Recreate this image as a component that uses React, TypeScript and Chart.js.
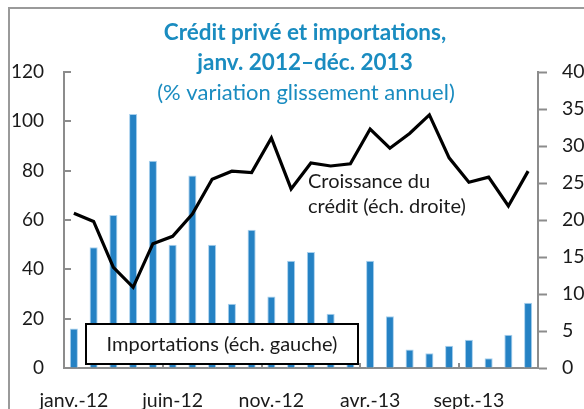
import React, { useEffect, useRef } from 'react';
import { Chart, registerables } from 'chart.js';

Chart.register(...registerables);

const months = [
  'janv.-12', 'févr.-12', 'mars-12', 'avr.-12', 'mai-12', 'juin-12',
  'juil.-12', 'août-12', 'sept.-12', 'oct.-12', 'nov.-12', 'déc.-12',
  'janv.-13', 'févr.-13', 'mars-13', 'avr.-13', 'mai-13', 'juin-13',
  'juil.-13', 'août-13', 'sept.-13', 'oct.-13', 'nov.-13', 'déc.-13',
];

// Importations (% glissement annuel, échelle gauche)
const importations = [16, 49, 62, 103, 84, 50, 78, 50, 26, 56, 29, 43.5, 47, 22, 9, 43.5, 21, 7.5, 6, 9, 11.5, 4, 13.5, 26.5];

// Croissance du crédit (% glissement annuel, échelle droite)
const credit = [20.9, 19.8, 13.6, 10.9, 16.8, 17.8, 20.8, 25.5, 26.6, 26.4, 31.1, 24.2, 27.7, 27.3, 27.6, 32.3, 29.7, 31.7, 34.2, 28.4, 25.1, 25.8, 21.9, 26.6];

const leftTicks = [0, 20, 40, 60, 80, 100, 120];
const rightTicks = [0, 5, 10, 15, 20, 25, 30, 35, 40];

const titleLines = ['Crédit privé et importations,', 'janv. 2012–déc. 2013'];
const subtitle = '(% variation glissement annuel)';
const importLabel = 'Importations (éch. gauche)';
const creditLabel = ['Croissance du', 'crédit (éch. droite)'];

const FONT = 'Lato, "Open Sans", sans-serif';
const AXIS = '#8c8c8c';
const TEXT = '#1a1a1a';
const BLUE_TITLE = '#1a8cc0';

const overlay = {
  id: 'overlay',
  afterDatasetsDraw(chart: any) {
    const { ctx, chartArea, scales } = chart;
    const { left, bottom } = chartArea;
    ctx.save();
    // inward ticks on left axis
    ctx.strokeStyle = AXIS;
    ctx.lineWidth = 2;
    leftTicks.forEach((v) => {
      const y = Math.round(scales.y.getPixelForValue(v));
      ctx.beginPath();
      ctx.moveTo(left, y);
      ctx.lineTo(left + 7, y);
      ctx.stroke();
    });
    // inward ticks on x axis at every 5th category boundary
    for (let i = 5; i < months.length; i += 5) {
      const x = Math.round((scales.x.getPixelForValue(i - 1) + scales.x.getPixelForValue(i)) / 2);
      ctx.beginPath();
      ctx.moveTo(x, bottom);
      ctx.lineTo(x, bottom - 5);
      ctx.stroke();
    }

    // Importations label box
    const bx = left + 22, by = bottom - 44, bw = 272, bh = 40;
    ctx.fillStyle = '#ffffff';
    ctx.fillRect(bx, by, bw, bh);
    ctx.strokeStyle = '#000000';
    ctx.lineWidth = 2;
    ctx.strokeRect(bx, by, bw, bh);
    ctx.fillStyle = TEXT;
    ctx.font = `20px ${FONT}`;
    ctx.textAlign = 'center';
    ctx.textBaseline = 'middle';
    ctx.fillText(importLabel, bx + bw / 2, by + bh / 2 + 1);

    // Credit label
    ctx.textAlign = 'left';
    ctx.fillText(creditLabel[0], 308, 182);
    ctx.fillText(creditLabel[1], 308, 207);

    // Title
    ctx.textAlign = 'center';
    ctx.fillStyle = BLUE_TITLE;
    ctx.font = `bold 22.5px ${FONT}`;
    ctx.fillText(titleLines[0], 305, 33);
    ctx.fillText(titleLines[1], 305, 63);
    ctx.font = `22px ${FONT}`;
    ctx.fillText(subtitle, 306, 93);
    ctx.restore();
  },
};

export default function App() {
  const ref = useRef<HTMLCanvasElement | null>(null);

  useEffect(() => {
    if (!ref.current) return;
    const chart = new Chart(ref.current, {
      type: 'bar',
      data: {
        labels: months,
        datasets: [
          {
            type: 'line',
            label: 'Croissance du crédit',
            data: credit,
            yAxisID: 'y1',
            borderColor: '#000000',
            borderWidth: 3.2,
            pointRadius: 0,
            tension: 0,
            order: 0,
          } as any,
          {
            type: 'bar',
            label: 'Importations',
            data: importations,
            yAxisID: 'y',
            backgroundColor: '#2582c4',
            borderColor: '#a9d1ee',
            borderWidth: 1,
            barPercentage: 0.41,
            categoryPercentage: 1,
            order: 1,
          },
        ],
      },
      options: {
        responsive: false,
        animation: false,
        layout: { padding: { top: 72, left: 0, right: 0, bottom: 0 } },
        plugins: {
          legend: { display: false },
          title: { display: false },
          tooltip: { enabled: false },
        },
        scales: {
          x: {
            offset: true,
            grid: { display: true, drawOnChartArea: false, drawTicks: false },
            border: { display: true, color: AXIS, width: 2 },
            ticks: {
              autoSkip: false,
              maxRotation: 0,
              padding: 21,
              color: TEXT,
              font: { family: FONT, size: 19.5 },
              callback: (_v: any, i: number) => (i % 5 === 0 ? months[i] : ''),
            },
            afterFit: (s: any) => { s.height = 41; },
          },
          y: {
            position: 'left',
            min: 0,
            max: 120,
            afterBuildTicks: (s: any) => { s.ticks = leftTicks.map((v) => ({ value: v })); },
            grid: { drawOnChartArea: false, drawTicks: false },
            border: { display: true, color: AXIS, width: 2 },
            ticks: { padding: 20, color: TEXT, font: { family: FONT, size: 19 } },
            afterFit: (s: any) => { s.width = 64; },
          },
          y1: {
            position: 'right',
            min: 0,
            max: 40,
            afterBuildTicks: (s: any) => { s.ticks = rightTicks.map((v) => ({ value: v })); },
            grid: { drawOnChartArea: false, drawTicks: true, tickLength: 9, tickColor: AXIS, tickWidth: 2 },
            border: { display: true, color: AXIS, width: 2 },
            ticks: { padding: 15, color: TEXT, font: { family: FONT, size: 19.5 } },
            afterFit: (s: any) => { s.width = 46; },
          },
        },
      },
      plugins: [overlay],
    });
    return () => chart.destroy();
  }, []);

  return (
    <div style={{ position: 'fixed', left: 0, top: 0, width: 584, height: 409, background: '#fff', overflow: 'hidden' }}>
      <div
        style={{
          position: 'absolute', left: 8, top: 7, width: 700, height: 500,
          borderLeft: '2px solid #9a9a9a', borderTop: '2px solid #9a9a9a',
        }}
      />
      <canvas ref={ref} width={584} height={409} style={{ position: 'absolute', left: 0, top: 0 }} />
    </div>
  );
}
